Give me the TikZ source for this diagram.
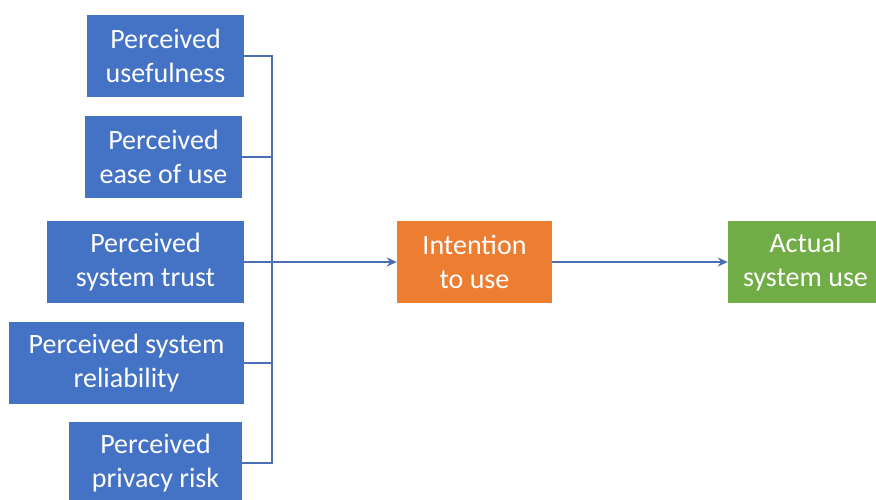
\documentclass[tikz,border=0pt]{standalone}
\usepackage{fontspec}
\setmainfont{Carlito}
\usepackage{xcolor}
\usetikzlibrary{arrows.meta,positioning}
\definecolor{tamblue}{HTML}{4472C4}
\definecolor{tamorange}{HTML}{ED7D31}
\definecolor{tamgreen}{HTML}{70AD47}
\definecolor{tamline}{HTML}{4A6FB5}

\begin{document}
\begin{tikzpicture}[
        x=1pt, y=-1pt,
        box/.style={
          draw=none,
          minimum height=82pt,
          inner sep=0pt,
          align=center,
          text=white,
          font=\fontsize{28}{34}\selectfont
        },
        factor/.style={box, fill=tamblue},
        link/.style={
          line width=1.8pt,
          tamline
        },
        arrow/.style={
          -{Stealth[length=10pt,width=9pt]},
          line width=1.8pt,
          tamline
        }
      ]
      \useasboundingbox (0,0) rectangle (876,499);

      \node[factor, minimum width=157pt] (useful) at (165.5,56) {Perceived\\usefulness};
      \node[factor, minimum width=157pt] (ease) at (163.5,157) {Perceived\\ease of use};
      \node[factor, minimum width=197pt] (trust) at (145.5,262) {Perceived\\system trust};
      \node[factor, minimum width=235pt] (reliab) at (126.5,363) {Perceived system\\reliability};
      \node[factor, minimum width=173pt] (privacy) at (155.5,463) {Perceived\\privacy risk};

      \node[box, fill=tamorange, minimum width=155pt] (intent) at (474.5,262) {Intention\\to use};
      \node[box, fill=tamgreen, minimum width=155pt] (actual) at (805.5,262) {Actual\\system use};

      \coordinate (bus) at (272,0);

      \draw[link] (useful.east) -- (useful.east -| bus) -- (privacy.east -| bus) -- (privacy.east);
      \draw[link] (ease.east) -- (ease.east -| bus);
      \draw[link] (reliab.east) -- (reliab.east -| bus);
      \draw[arrow] (trust.east) -- (intent.west);
      \draw[arrow] (intent) -- (actual);

      \end{tikzpicture}
\end{document}
